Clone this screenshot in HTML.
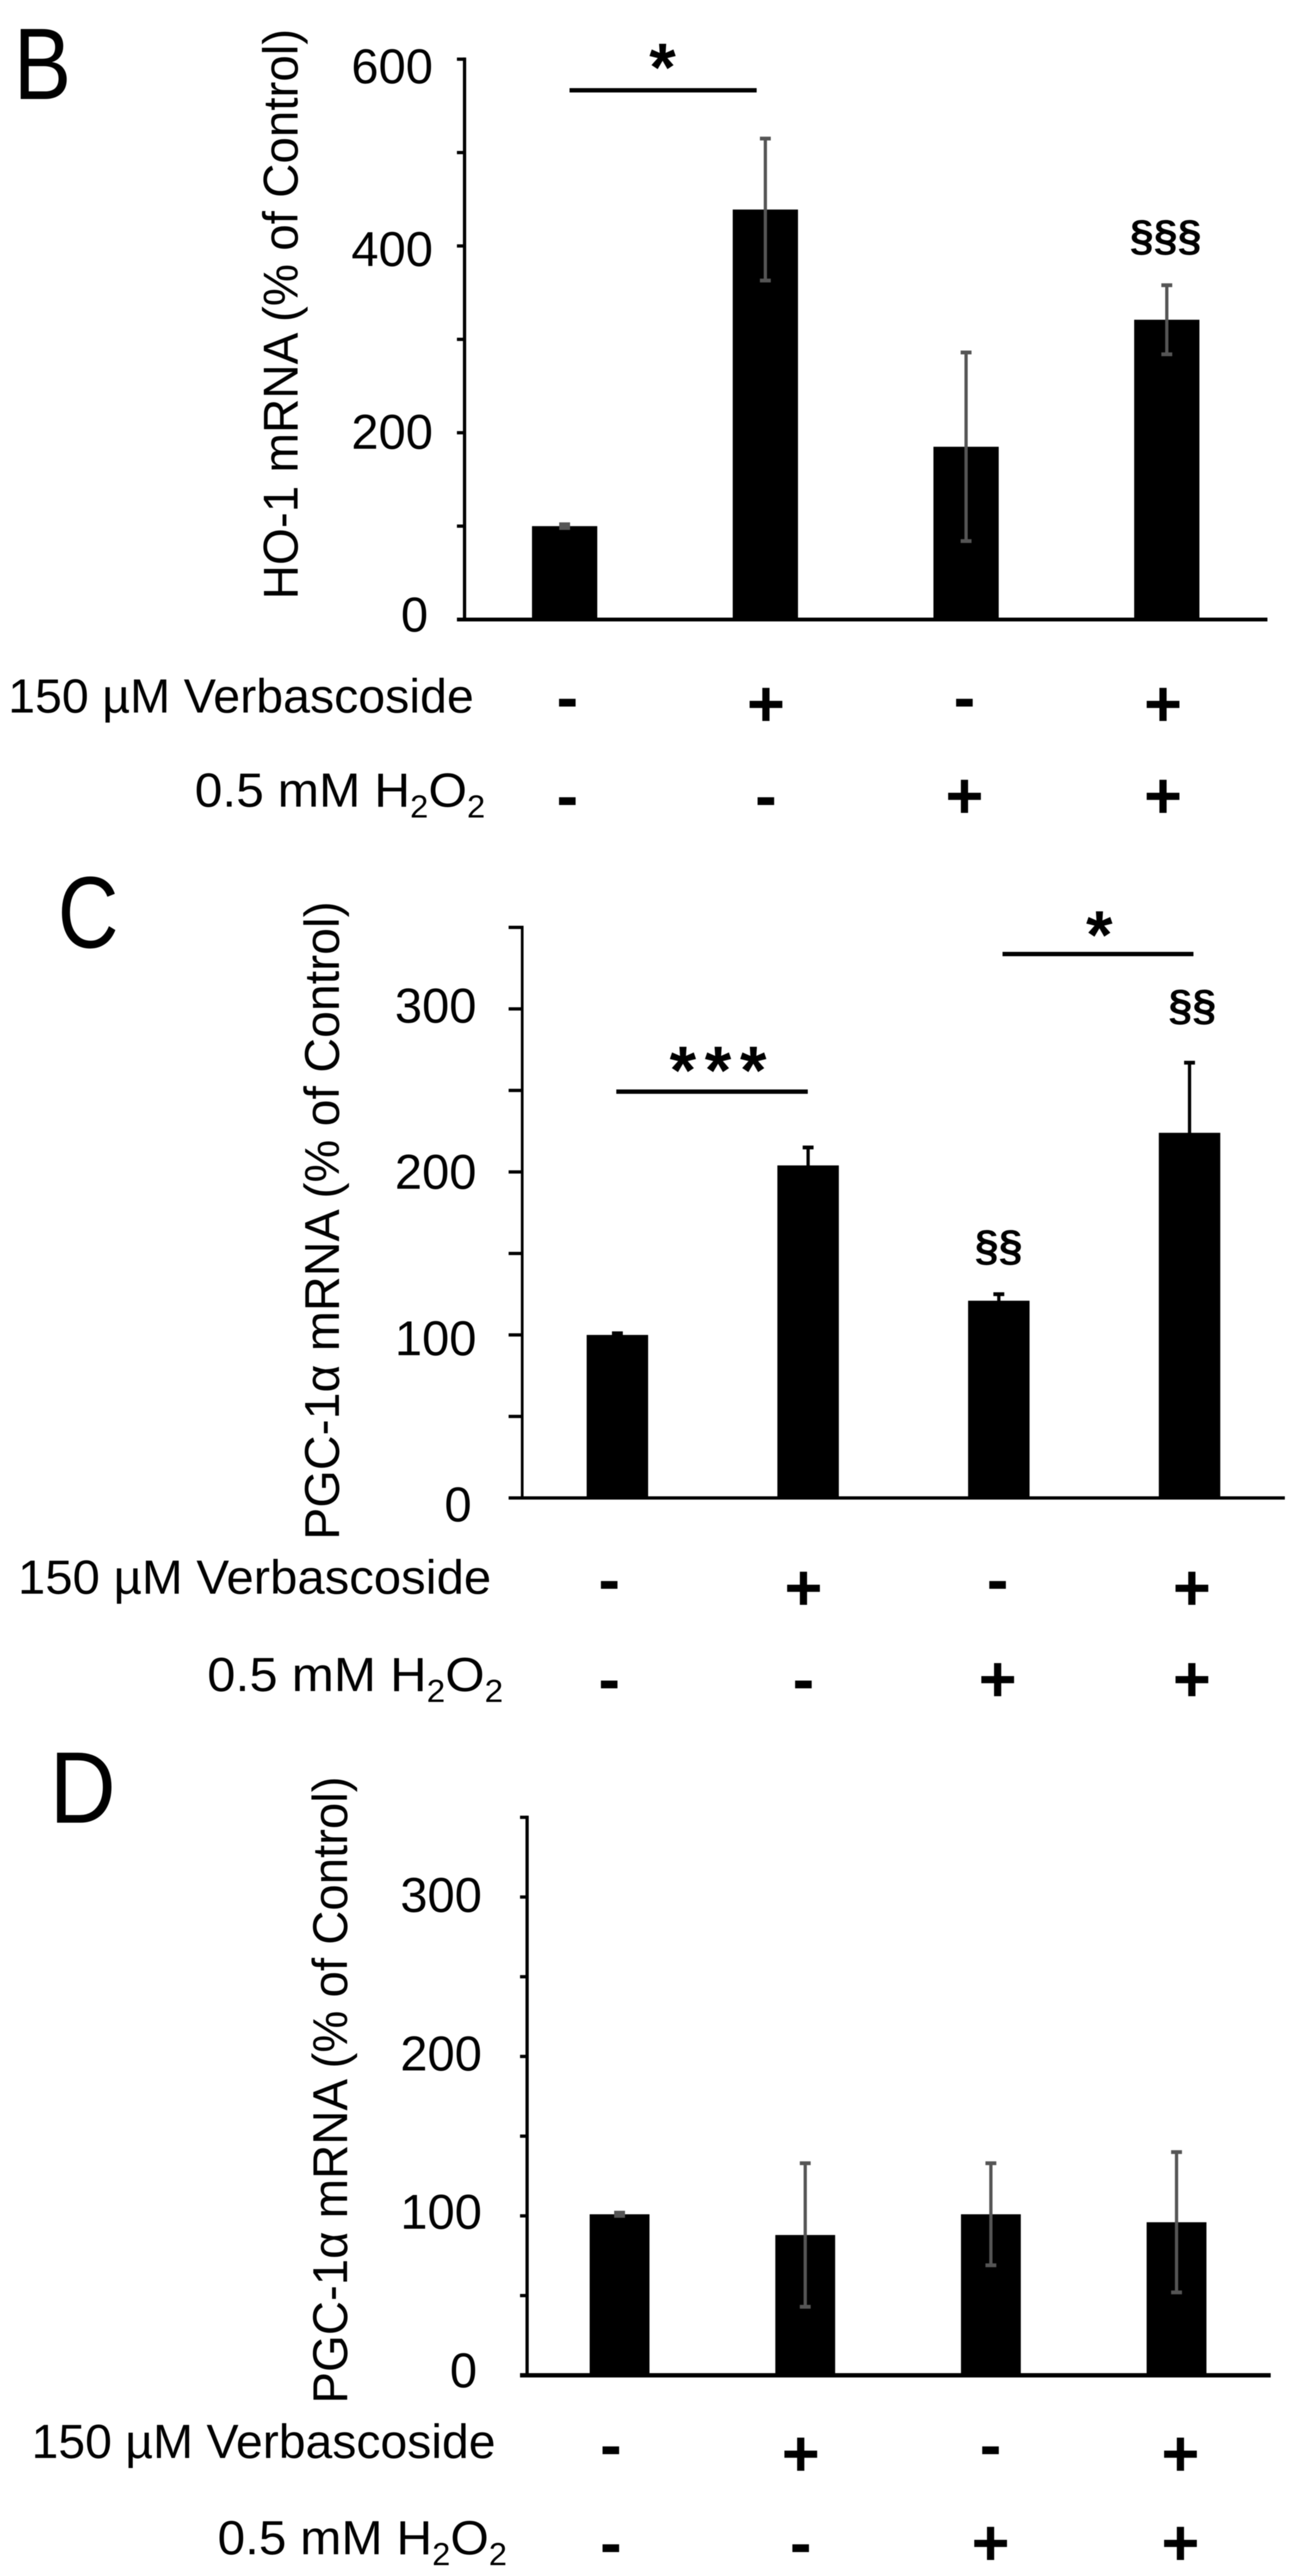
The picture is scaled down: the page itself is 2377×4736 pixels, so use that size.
<!DOCTYPE html>
<html lang="en">
<head>
<meta charset="utf-8">
<title>HO-1 and PGC-1α mRNA bar charts</title>
<style>
  html, body { margin: 0; padding: 0; background: #fff; }
  svg { display: block; filter: blur(0.9px); }
  text { font-family: "Liberation Sans", "DejaVu Sans", sans-serif; fill: #000; }
</style>
</head>
<body>
<svg id="figure" xmlns="http://www.w3.org/2000/svg" width="2377" height="4736" viewBox="0 0 2377 4736">
  <rect width="2377" height="4736" fill="#fff"/>

  <text x="25" y="182" font-size="187" textLength="106" lengthAdjust="spacingAndGlyphs">B</text>
  <text transform="translate(547 1102) rotate(-90)" font-size="90" textLength="1049" lengthAdjust="spacingAndGlyphs">HO-1 mRNA (% of Control)</text>
  <text x="15" y="1310" font-size="88" textLength="856" lengthAdjust="spacingAndGlyphs">150 µM Verbascoside</text>
  <text x="358" y="1483" font-size="88" textLength="534" lengthAdjust="spacingAndGlyphs">0.5 mM H<tspan font-size="58" dy="20">2</tspan><tspan dy="-20">O</tspan><tspan font-size="58" dy="20">2</tspan></text>

  <text x="106" y="1742" font-size="187" textLength="112" lengthAdjust="spacingAndGlyphs">C</text>
  <text transform="translate(623 2831) rotate(-90)" font-size="90" textLength="1174" lengthAdjust="spacingAndGlyphs">PGC-1α mRNA (% of Control)</text>
  <text x="33" y="2930" font-size="88" textLength="870" lengthAdjust="spacingAndGlyphs">150 µM Verbascoside</text>
  <text x="381" y="3109" font-size="88" textLength="544" lengthAdjust="spacingAndGlyphs">0.5 mM H<tspan font-size="58" dy="20">2</tspan><tspan dy="-20">O</tspan><tspan font-size="58" dy="20">2</tspan></text>

  <text x="91" y="3351" font-size="187" textLength="122" lengthAdjust="spacingAndGlyphs">D</text>
  <text transform="translate(638 4419) rotate(-90)" font-size="90" textLength="1153" lengthAdjust="spacingAndGlyphs">PGC-1α mRNA (% of Control)</text>
  <text x="58" y="4519" font-size="88" textLength="853" lengthAdjust="spacingAndGlyphs">150 µM Verbascoside</text>
  <text x="400" y="4696" font-size="88" textLength="532" lengthAdjust="spacingAndGlyphs">0.5 mM H<tspan font-size="58" dy="20">2</tspan><tspan dy="-20">O</tspan><tspan font-size="58" dy="20">2</tspan></text>

  <g>
    <line x1="1047" x2="1391" y1="166" y2="166" stroke="#000" stroke-width="8"/>
    <text x="1218" y="167" font-size="125" font-weight="bold" text-anchor="middle">*</text>
    <text x="2143" y="460" font-size="80" font-weight="bold" text-anchor="middle" textLength="132" lengthAdjust="spacingAndGlyphs">§§§</text>
  </g>
  <g>
    <line x1="1133" x2="1485" y1="2007" y2="2007" stroke="#000" stroke-width="8"/>
    <text x="1328" y="2011" font-size="125" font-weight="bold" text-anchor="middle" letter-spacing="16">***</text>
    <line x1="1843" x2="2194" y1="1754" y2="1754" stroke="#000" stroke-width="8"/>
    <text x="2021" y="1762" font-size="125" font-weight="bold" text-anchor="middle">*</text>
    <text x="1836" y="2317" font-size="80" font-weight="bold" text-anchor="middle" textLength="88" lengthAdjust="spacingAndGlyphs">§§</text>
    <text x="2192" y="1875" font-size="80" font-weight="bold" text-anchor="middle" textLength="88" lengthAdjust="spacingAndGlyphs">§§</text>
  </g>
</svg>

<script>
// Panel B: HO-1 mRNA
const bValues = [100, 439, 185, 321];
const bErrors = [2, 76, 101, 37];
const bTickLabels = ["0", "200", "400", "600"];
// Panel C: PGC-1 alpha mRNA
const cValues = [100, 204, 121, 224];
const cErrors = [1, 11, 4, 43];
const cTickLabels = ["0", "100", "200", "300"];
// Panel D: PGC-1 alpha mRNA
const dValues = [101, 88, 101, 96];
const dErrors = [1, 45, 32, 44];
const dTickLabels = ["0", "100", "200", "300"];
// Treatment rows shared by all panels
const verbascosideSigns = ["-", "+", "-", "+"];
const h2o2Signs = ["-", "-", "+", "+"];

const SVG_NS = "http://www.w3.org/2000/svg";
const figure = document.getElementById("figure");

function make(tag, attrs, parent) {
  const node = document.createElementNS(SVG_NS, tag);
  for (const key in attrs) node.setAttribute(key, attrs[key]);
  parent.appendChild(node);
  return node;
}

function drawPanel(id, values, errors, tickLabels, cfg) {
  const y = v => cfg.y0 - v * cfg.pxPerUnit;
  const xCenter = i => cfg.barStart + i * cfg.barStep;
  const signX = i => cfg.signStart + i * cfg.signStep;
  const labelY = v => cfg.labelBase - v * cfg.labelPerUnit;

  const group = make("g", {}, figure);
  
  

  values.forEach((value, i) => {
    const bar = make("rect", {
      x: xCenter(i) - cfg.barWidth / 2, y: y(value),
      width: cfg.barWidth, height: cfg.y0 - y(value), fill: "#000"
    }, group);
    
    

    const hi = y(value + errors[i]);
    const lo = y(Math.max(0, value - errors[i]));
    const errorLine = make("line", {
      x1: xCenter(i), x2: xCenter(i), y1: hi, y2: lo,
      stroke: cfg.errorColor, "stroke-width": 6
    }, group);
    
    

    const capTop = make("line", {
      x1: xCenter(i) - 10, x2: xCenter(i) + 10, y1: hi, y2: hi,
      stroke: cfg.errorColor, "stroke-width": 7
    }, group);
    
    

    const capBottom = make("line", {
      x1: xCenter(i) - 10, x2: xCenter(i) + 10, y1: lo, y2: lo,
      stroke: cfg.errorColor, "stroke-width": 7
    }, group);
    
    
  });

  const yAxis = make("line", {
    x1: cfg.axisX, x2: cfg.axisX, y1: y(cfg.yMax) - 3, y2: cfg.y0 + 3,
    stroke: "#000", "stroke-width": cfg.axisWidth
  }, group);
  
  

  const xAxis = make("line", {
    x1: cfg.axisX - cfg.tickLength, x2: cfg.axisEnd, y1: cfg.y0, y2: cfg.y0,
    stroke: "#000", "stroke-width": cfg.xAxisWidth
  }, group);
  
  

  for (let v = cfg.minorStep; v <= cfg.yMax; v += cfg.minorStep) {
    const tick = make("line", {
      x1: cfg.axisX - cfg.tickLength, x2: cfg.axisX, y1: y(v), y2: y(v),
      stroke: "#000", "stroke-width": 6
    }, group);
    
    
  }

  tickLabels.forEach(label => {
    const t = make("text", {
      x: cfg.labelRight - (label === "0" ? 9 : 0), y: labelY(Number(label)),
      "font-size": 90, "text-anchor": "end"
    }, group);
    
    
    t.textContent = label;
  });

  verbascosideSigns.forEach((sign, i) => {
    const t = make("text", {
      x: signX(i), y: sign === "+" ? cfg.row1PlusBase : cfg.row1MinusBase,
      "font-size": 120, "font-weight": "bold", "text-anchor": "middle"
    }, group);
    
    
    t.textContent = sign;
  });

  h2o2Signs.forEach((sign, i) => {
    const t = make("text", {
      x: signX(i), y: cfg.row2Base,
      "font-size": 120, "font-weight": "bold", "text-anchor": "middle"
    }, group);
    
    
    t.textContent = sign;
  });
}

drawPanel("b", bValues, bErrors, bTickLabels, {
  y0: 1139, pxPerUnit: 1.717, yMax: 600, minorStep: 100,
  axisX: 854, axisWidth: 6, xAxisWidth: 7, axisEnd: 2330, tickLength: 14,
  barStart: 1038, barStep: 369, barWidth: 120, errorColor: "#555",
  labelRight: 796, labelBase: 1161, labelPerUnit: 1.68,
  signStart: 1043, signStep: 365, row1PlusBase: 1335, row1MinusBase: 1323, row2Base: 1504
});
drawPanel("c", cValues, cErrors, cTickLabels, {
  y0: 2754, pxPerUnit: 2.997, yMax: 350, minorStep: 50,
  axisX: 960, axisWidth: 5, xAxisWidth: 6, axisEnd: 2362, tickLength: 25,
  barStart: 1135, barStep: 350.6, barWidth: 113, errorColor: "#000",
  labelRight: 876, labelBase: 2797, labelPerUnit: 3.057,
  signStart: 1120, signStep: 357, row1PlusBase: 2960, row1MinusBase: 2945, row2Base: 3128
});
drawPanel("d", dValues, dErrors, dTickLabels, {
  y0: 4367, pxPerUnit: 2.931, yMax: 350, minorStep: 50,
  axisX: 969, axisWidth: 6, xAxisWidth: 8, axisEnd: 2336, tickLength: 13,
  barStart: 1139, barStep: 341.3, barWidth: 110, errorColor: "#555",
  labelRight: 886, labelBase: 4389, labelPerUnit: 2.913,
  signStart: 1123, signStep: 349, row1PlusBase: 4552, row1MinusBase: 4536, row2Base: 4716
});
</script>
</body>
</html>
